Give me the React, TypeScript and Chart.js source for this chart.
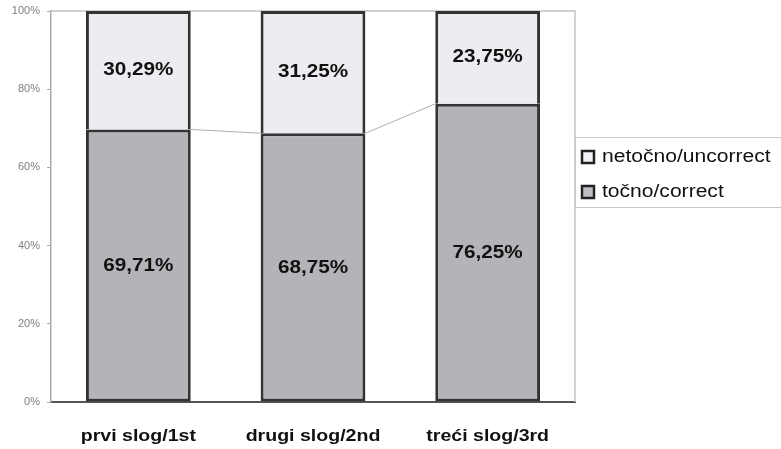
import React, { useEffect, useRef } from "react";
import { Chart, registerables } from "chart.js";

Chart.register(...registerables);

const categories = ["prvi slog/1st", "drugi slog/2nd", "treći slog/3rd"];
const correct = [69.71, 68.75, 76.25];
const incorrect = [30.29, 31.25, 23.75];
const seriesNames = ["netočno/uncorrect", "točno/correct"];
const yTicks = [0, 20, 40, 60, 80, 100];

const FONT = "'Liberation Sans', Arial, sans-serif";
const fmt = (v: number) => v.toFixed(2).replace(".", ",") + "%";

function stretchText(ctx: any, text: string, x: number, y: number, sx: number, align: string) {
  ctx.save();
  ctx.translate(x, y);
  ctx.scale(sx, 1);
  ctx.textAlign = align;
  ctx.textBaseline = "middle";
  ctx.fillText(text, 0, 0);
  ctx.restore();
}

const overlay = {
  id: "overlay",
  beforeDatasetsDraw(chart: any) {
    const ctx = chart.ctx;
    const a = chart.chartArea;
    ctx.save();
    ctx.strokeStyle = "#c4c4c8";
    ctx.lineWidth = 1.5;
    ctx.beginPath();
    ctx.moveTo(a.left, a.top);
    ctx.lineTo(a.right, a.top);
    ctx.lineTo(a.right, a.bottom);
    ctx.stroke();
    ctx.restore();
  },
  afterDatasetsDraw(chart: any) {
    const ctx = chart.ctx;
    const x = chart.scales.x;
    const y = chart.scales.y;
    const meta0 = chart.getDatasetMeta(0);
    ctx.save();
    ctx.strokeStyle = "#a9adbb";
    ctx.lineWidth = 1;
    for (let i = 0; i < categories.length - 1; i++) {
      const b1 = meta0.data[i];
      const b2 = meta0.data[i + 1];
      ctx.beginPath();
      ctx.moveTo(b1.x + b1.width / 2, y.getPixelForValue(correct[i]));
      ctx.lineTo(b2.x - b2.width / 2, y.getPixelForValue(correct[i + 1]));
      ctx.stroke();
    }
    ctx.fillStyle = "#111";
    ctx.font = "bold 18px " + FONT;
    for (let i = 0; i < categories.length; i++) {
      const cx = x.getPixelForValue(i);
      stretchText(ctx, fmt(correct[i]), cx, y.getPixelForValue(correct[i] / 2), 1.15, "center");
      stretchText(ctx, fmt(incorrect[i]), cx, y.getPixelForValue(correct[i] + incorrect[i] / 2), 1.15, "center");
    }
    ctx.font = "bold 17px " + FONT;
    for (let i = 0; i < categories.length; i++) {
      stretchText(ctx, categories[i], x.getPixelForValue(i), 436, 1.15, "center");
    }
    const lx = 575, ly = 137;
    ctx.strokeStyle = "#c8c8cc";
    ctx.lineWidth = 1;
    ctx.strokeRect(lx + 0.5, ly + 0.5, 215, 70);
    ctx.font = "18px " + FONT;
    const fills = ["#f2f2f6", "#c0bec2"];
    for (let k = 0; k < 2; k++) {
      const yy = 157 + k * 35;
      ctx.fillStyle = fills[k];
      ctx.fillRect(582, yy - 6, 12, 12);
      ctx.strokeStyle = "#222";
      ctx.lineWidth = 2.5;
      ctx.strokeRect(582, yy - 6, 12, 12);
      ctx.fillStyle = "#111";
      stretchText(ctx, seriesNames[k], 602, yy, 1.17, "left");
    }
    ctx.restore();
  },
};

export default function App() {
  const ref = useRef<HTMLCanvasElement | null>(null);
  useEffect(() => {
    const chart = new Chart(ref.current as HTMLCanvasElement, {
      type: "bar",
      data: {
        labels: categories,
        datasets: [
          {
            label: seriesNames[1],
            data: correct,
            backgroundColor: "#b5b3b7",
            borderColor: "#333333",
            borderWidth: 3,
            borderSkipped: false,
            barPercentage: 0.6,
            categoryPercentage: 1,
          },
          {
            label: seriesNames[0],
            data: incorrect,
            backgroundColor: "#ececf1",
            borderColor: "#333333",
            borderWidth: 3,
            borderSkipped: "bottom",
            barPercentage: 0.6,
            categoryPercentage: 1,
          },
        ],
      },
      options: {
        animation: false,
        responsive: false,
        layout: { padding: { top: 11, right: 206, left: 0, bottom: 0 } },
        plugins: { legend: { display: false }, tooltip: { enabled: false } },
        scales: {
          x: {
            stacked: true,
            grid: { display: false, drawTicks: false },
            border: { display: true, color: "#555", width: 2 },
            ticks: { display: false },
            afterFit: (s: any) => { s.height = 47; },
          },
          y: {
            stacked: true,
            min: 0,
            max: 100,
            afterBuildTicks: (s: any) => { s.ticks = yTicks.map((v) => ({ value: v })); },
            grid: { display: true, drawOnChartArea: false, drawTicks: true, tickLength: 4, color: "#aaa" },
            border: { display: true, color: "#aaa", width: 1.5 },
            ticks: {
              color: "#808080",
              font: { family: FONT, size: 11 },
              padding: 7,
              callback: (v: any) => v + "%",
            },
            afterFit: (s: any) => { s.width = 51; s.paddingTop = 0; s.paddingBottom = 0; },
          },
        },
      },
      plugins: [overlay],
    });
    return () => chart.destroy();
  }, []);
  return (
    <div style={{ position: "fixed", left: 0, top: 0, width: 781, height: 449, background: "#fff" }}>
      <canvas ref={ref} width={781} height={449} style={{ width: 781, height: 449 }} />
    </div>
  );
}
